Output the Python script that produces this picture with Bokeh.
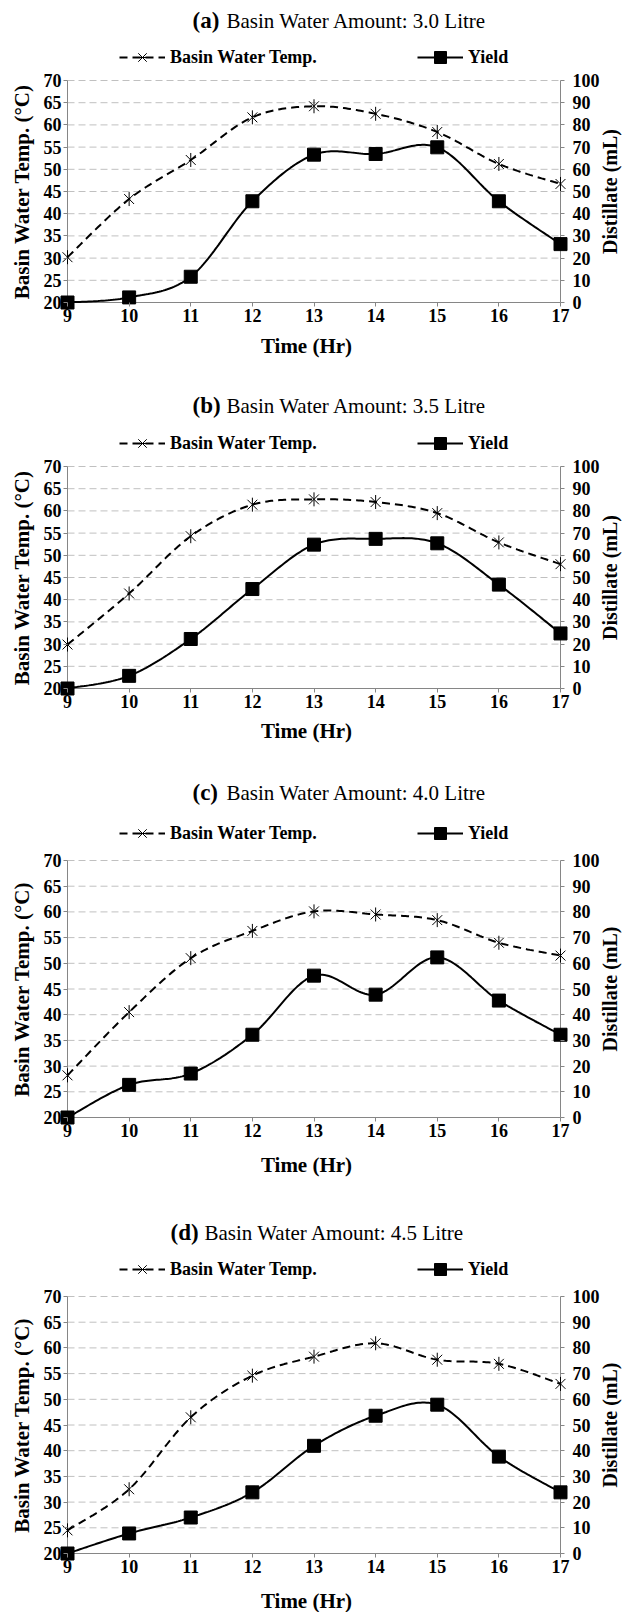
import numpy as np
from bokeh.plotting import figure
from bokeh.models import Range1d, LinearAxis, FixedTicker, Legend, LegendItem
from bokeh.core.properties import value
from bokeh.layouts import column
from bokeh.embed import file_html
from bokeh.resources import INLINE

# ---------------- data ----------------
hours = [9, 10, 11, 12, 13, 14, 15, 16, 17]
temp_ticks = [20, 25, 30, 35, 40, 45, 50, 55, 60, 65, 70]
yield_ticks = [0, 10, 20, 30, 40, 50, 60, 70, 80, 90, 100]

temp_a = [30.2, 43.3, 52.1, 61.7, 64.2, 62.5, 58.4, 51.2, 46.7]
yield_a = [0.0, 2.3, 11.6, 45.6, 66.6, 66.9, 69.9, 45.6, 26.3]
temp_b = [29.9, 41.4, 54.3, 61.4, 62.6, 62.0, 59.5, 52.9, 48.0]
yield_b = [0.0, 5.7, 22.3, 44.8, 64.8, 67.4, 65.4, 46.8, 24.8]
temp_c = [28.2, 40.5, 51.0, 56.3, 60.1, 59.5, 58.4, 54.0, 51.5]
yield_c = [0.0, 12.7, 17.1, 32.2, 55.2, 47.8, 62.3, 45.5, 32.2]
temp_d = [24.5, 32.5, 46.5, 54.6, 58.3, 60.9, 57.7, 56.9, 53.0]
yield_d = [0.0, 7.8, 14.0, 23.8, 41.9, 53.6, 57.9, 37.7, 23.8]

panel_tags = ["(a)", "(b)", "(c)", "(d)"]
panel_titles = ["Basin Water Amount: 3.0 Litre", "Basin Water Amount: 3.5 Litre",
                "Basin Water Amount: 4.0 Litre", "Basin Water Amount: 4.5 Litre"]
temp_label = "Basin Water Temp."
yield_label = "Yield"
x_title = "Time (Hr)"
y_title = "Basin Water Temp. (\u00b0C)"
y2_title = "Distillate (mL)"

# ---------------- style / layout (pixels) ----------------
FONT = "Liberation Serif"
GRID = "#c0c0c0"
AXIS = "#868686"
W = 622
X9, X17 = 67, 560          # pixel columns of the first / last hour
LEG_X = 119                # left edge of the legend
YLAB_X, Y2LAB_X, XLAB_X = 21, 609, 306
# slot height, title y, legend y, top gridline y, bottom axis y, x-title y, tag x, text x
LAYOUT = [
    (380, 20, 57, 80, 302, 345, 192, 226),
    (390, 25, 63, 86, 308, 350, 192, 226),
    (420, 22, 63, 90, 347, 394, 192, 226),
    (422, 42, 79, 106, 363, 410, 170, 204),
]


def smooth(xs, ys, n=30):
    P = np.column_stack([xs, ys]).astype(float)
    N = len(P)
    ox, oy = [], []
    for i in range(N - 1):
        p0 = P[max(i - 1, 0)]
        p1 = P[i]
        p2 = P[i + 1]
        p3 = P[min(i + 2, N - 1)]
        c1 = p1 + (p2 - p0) / 6.0
        c2 = p2 - (p3 - p1) / 6.0
        t = np.linspace(0, 1, n)[:, None]
        if i > 0:
            t = t[1:]
        B = (1 - t) ** 3 * p1 + 3 * (1 - t) ** 2 * t * c1 + 3 * (1 - t) * t ** 2 * c2 + t ** 3 * p2
        ox.extend(B[:, 0].tolist())
        oy.extend(B[:, 1].tolist())
    return ox, oy


def make_panel(k, temps, yields):
    H, ty, ly, top, ax_y, xty, tagx, txtx = LAYOUT[k]
    t0, t1 = temp_ticks[0], temp_ticks[-1]
    v0, v1 = yield_ticks[0], yield_ticks[-1]
    h0, h1 = hours[0], hours[-1]
    hpx = (X17 - X9) / (h1 - h0)
    tpx = (ax_y - top) / (t1 - t0)
    ratio = (v1 - v0) / (t1 - t0)

    def px2x(px):
        return h0 + (px - X9) / hpx

    def py2y(py):
        return t0 + (ax_y - py) / tpx

    p = figure(width=W, height=H,
               x_range=Range1d(px2x(0), px2x(W)),
               y_range=Range1d(py2y(H), py2y(0)),
               min_border=0, min_border_left=0, min_border_right=0,
               min_border_top=0, min_border_bottom=0,
               output_backend="svg", toolbar_location=None)
    p.title.visible = False
    p.outline_line_color = None
    p.extra_y_ranges = {"y2": Range1d(v0 + (py2y(H) - t0) * ratio, v0 + (py2y(0) - t0) * ratio)}
    p.grid.visible = False

    xa = p.xaxis[0]
    ya = p.yaxis[0]
    ya2 = LinearAxis(y_range_name="y2")
    p.add_layout(ya2, "right")
    xa.fixed_location = t0
    ya.fixed_location = h0
    ya2.fixed_location = h1
    xa.ticker = FixedTicker(ticks=hours)
    ya.ticker = FixedTicker(ticks=temp_ticks)
    ya2.ticker = FixedTicker(ticks=yield_ticks)
    for axis in (xa, ya, ya2):
        axis.axis_line_color = None
        axis.major_tick_line_color = AXIS
        axis.major_tick_out = 4
        axis.major_tick_in = 0
        axis.minor_tick_line_color = None
        axis.major_label_text_font = FONT
        axis.major_label_text_font_style = "bold"
        axis.major_label_text_font_size = "18px"
        axis.major_label_text_color = "black"
    xa.major_label_standoff = 2
    ya.major_label_standoff = 2
    ya2.major_label_standoff = 8

    # gridlines
    gt = temp_ticks[1:]
    p.segment(x0=[h0] * len(gt), x1=[h1] * len(gt), y0=gt, y1=gt,
              line_color=GRID, line_dash="7 4", line_width=1)
    # axis lines
    p.segment(x0=[h0, h1, h0], y0=[t0] * 3, x1=[h0, h1, h1], y1=[t1, t1, t0],
              line_color=AXIS, line_width=1)

    # series
    sx, sy = smooth(hours, temps)
    r1 = p.line(sx, sy, line_color="black", line_width=2, line_dash="8 5")
    r2 = p.scatter(hours, temps, marker="x", size=14, line_color="black", line_width=1)
    r3 = p.scatter(hours, temps, marker="dash", angle=np.pi / 2, size=14, line_color="black", line_width=1)
    yx, yy = smooth(hours, yields)
    r4 = p.line(yx, yy, line_color="black", line_width=2, y_range_name="y2")
    r5 = p.scatter(hours, yields, marker="square", size=13, fill_color="black", line_color="black",
                   y_range_name="y2")

    # legend
    gh = 30
    leg = Legend(items=[LegendItem(label=temp_label, renderers=[r1, r2, r3]),
                        LegendItem(label=yield_label, renderers=[r4, r5])],
                 location=(LEG_X, H - ly - gh / 2), orientation="horizontal",
                 glyph_width=46, glyph_height=gh, label_height=gh, label_standoff=5,
                 spacing=100, padding=0, margin=0, border_line_color=None,
                 background_fill_alpha=0,
                 label_text_font=FONT, label_text_font_style="bold", label_text_font_size="18px",
                 label_text_color="black")
    p.add_layout(leg)

    # title
    p.text(x=[px2x(tagx)], y=[py2y(ty)], text=[panel_tags[k]], text_font=value(FONT),
           text_font_style="bold", text_font_size="23px", text_baseline="middle",
           text_align="left", text_color="black")
    p.text(x=[px2x(txtx)], y=[py2y(ty)], text=[panel_titles[k]], text_font=value(FONT),
           text_font_style="normal", text_font_size="21px", text_baseline="middle",
           text_align="left", text_color="black")
    # axis titles
    ymid = py2y((top + ax_y) / 2.0)
    p.text(x=[px2x(YLAB_X)], y=[ymid], text=[y_title], angle=np.pi / 2, text_font=value(FONT),
           text_font_style="bold", text_font_size="21px", text_baseline="middle",
           text_align="center", text_color="black")
    p.text(x=[px2x(Y2LAB_X)], y=[ymid], text=[y2_title], angle=np.pi / 2, text_font=value(FONT),
           text_font_style="bold", text_font_size="20px", text_baseline="middle",
           text_align="center", text_color="black")
    p.text(x=[px2x(XLAB_X)], y=[py2y(xty)], text=[x_title], text_font=value(FONT),
           text_font_style="bold", text_font_size="21px", text_baseline="middle",
           text_align="center", text_color="black")
    return p


series = [(temp_a, yield_a), (temp_b, yield_b), (temp_c, yield_c), (temp_d, yield_d)]
panels = [make_panel(k, t, y) for k, (t, y) in enumerate(series)]
layout = column(*panels, spacing=0)

open("out.html", "w").write(file_html(layout, INLINE))
